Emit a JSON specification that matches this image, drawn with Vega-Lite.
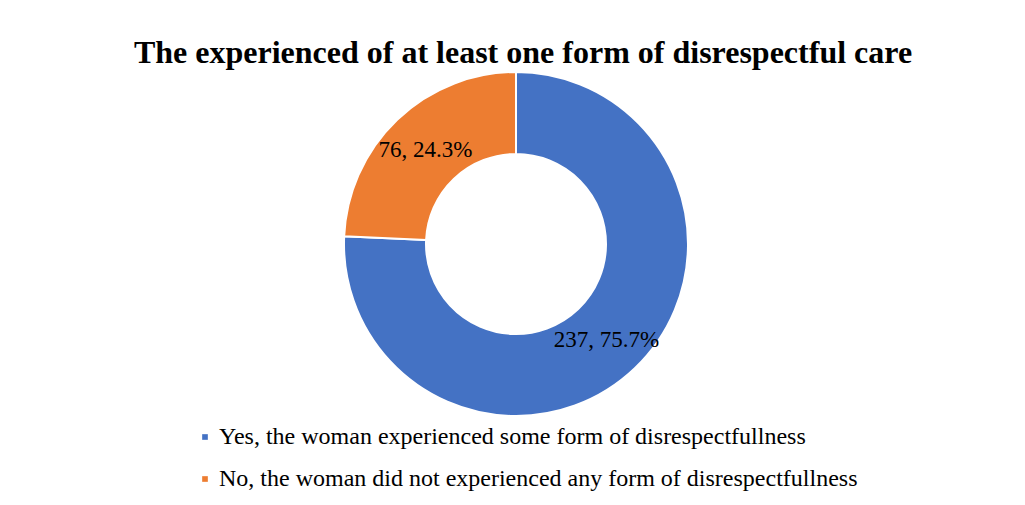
{
  "$schema": "https://vega.github.io/schema/vega-lite/v6.json",
  "width": 1022,
  "height": 466,
  "autosize": {"type": "none"},
  "padding": {"left": 5, "top": 11, "right": 0, "bottom": 28},
  "background": "white",
  "title": {
    "text": "The experienced of at least one form of disrespectful care",
    "font": "Liberation Serif",
    "fontSize": 32,
    "fontWeight": "bold",
    "color": "black",
    "anchor": "middle",
    "dx": 7,
    "dy": 63
  },
  "data": {
    "values": [
      {"category": "Yes, the woman experienced some form of disrespectfullness", "count": 237, "label": "237, 75.7%", "ord": 1},
      {"category": "No, the woman did not experienced any form of disrespectfullness", "count": 76, "label": "76, 24.3%", "ord": 2}
    ]
  },
  "encoding": {
    "theta": {"field": "count", "type": "quantitative", "stack": true},
    "order": {"field": "ord", "type": "quantitative"}
  },
  "layer": [
    {
      "mark": {"type": "arc", "outerRadius": 172, "innerRadius": 90, "stroke": "white", "strokeWidth": 2},
      "encoding": {
        "color": {
          "field": "category",
          "type": "nominal",
          "scale": {
            "domain": ["Yes, the woman experienced some form of disrespectfullness", "No, the woman did not experienced any form of disrespectfullness"],
            "range": ["#4472C4", "#ED7D31"]
          },
          "legend": {
            "orient": "none",
            "legendX": 188,
            "legendY": 414,
            "title": null,
            "symbolType": "square",
            "symbolSize": 32,
            "symbolStrokeWidth": 0,
            "labelFont": "Liberation Serif",
            "labelFontSize": 24,
            "labelColor": "black",
            "labelLimit": 0,
            "labelOffset": 2,
            "rowPadding": 18
          }
        }
      }
    },
    {
      "mark": {"type": "text", "radius": 131, "font": "Liberation Serif", "fontSize": 23, "color": "black", "baseline": "middle", "align": "center", "dy": 1},
      "encoding": {
        "text": {"field": "label", "type": "nominal"}
      }
    }
  ]
}
